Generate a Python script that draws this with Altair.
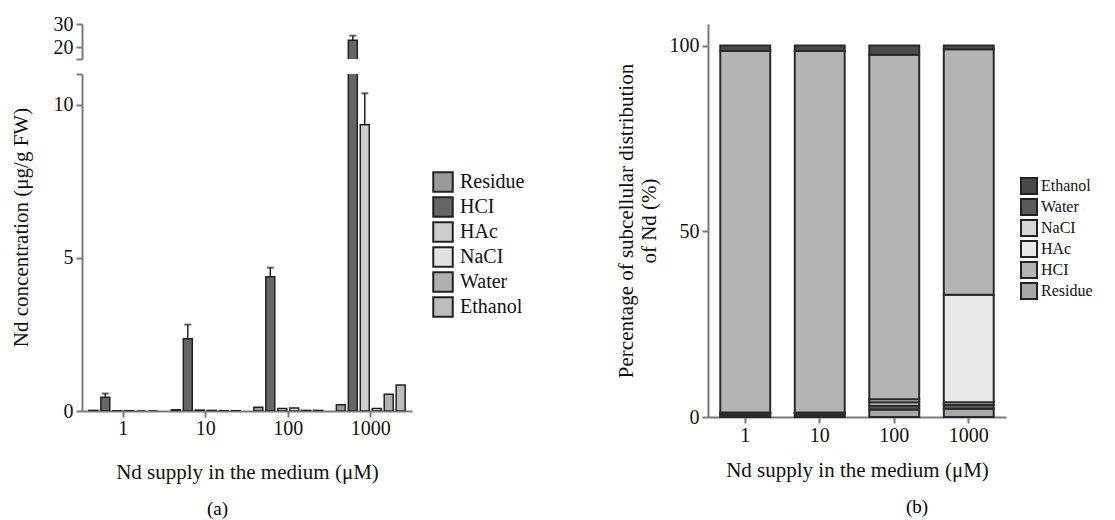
import altair as alt
import pandas as pd

FONT = "Liberation Serif"
AX = "#7a7a7a"

# ---------------- data ----------------
supply = ["1", "10", "100", "1000"]

# panel (a): Nd concentration (ug/g FW) per fraction
fractions_a = ["Residue", "HCI", "HAc", "NaCI", "Water", "Ethanol"]
residue_a = [0.02, 0.04, 0.12, 0.20]
hci_a = [0.45, 2.36, 4.38, 23.0]
hac_a = [0.01, 0.03, 0.08, 9.34]
naci_a = [0.01, 0.02, 0.10, 0.08]
water_a = [0.00, 0.01, 0.02, 0.55]
ethanol_a = [0.00, 0.01, 0.02, 0.85]
colors_a = ["#9a9a9a", "#666666", "#cdcdcd", "#e2e2e2", "#b0b0b0", "#bdbdbd"]

# error bars of panel (a)
err_supply = ["1", "10", "100", "1000", "1000"]
err_fraction = ["HCI", "HCI", "HCI", "HCI", "HAc"]
err_mean = [0.45, 2.36, 4.38, 23.0, 9.34]
err_top = [0.57, 2.82, 4.68, 25.0, 10.37]

# y-axis ticks of the two parts of the broken axis in panel (a)
upper_ticks = [15, 20, 30]
lower_ticks = [0, 5, 10, 11]

# panel (b): percentage of subcellular distribution, stacked bottom -> top
stack_b = ["Residue", "Water", "NaCI", "HAc", "HCI", "Ethanol"]
legend_b = ["Ethanol", "Water", "NaCI", "HAc", "HCI", "Residue"]
residue_b = [0.4, 0.4, 2.0, 2.2]
water_b = [0.6, 0.6, 1.0, 1.0]
naci_b = [0.1, 0.1, 1.0, 0.8]
hac_b = [0.1, 0.1, 0.8, 28.9]
hci_b = [97.3, 97.3, 92.7, 66.1]
ethanol_b = [1.5, 1.5, 2.5, 1.0]
colors_b = ["#4a4a4a", "#5a5a5a", "#d5d5d5", "#e8e8e8", "#b4b4b4", "#a8a8a8"]

# ---------------- tables ----------------
series_a = dict(zip(fractions_a, [residue_a, hci_a, hac_a, naci_a, water_a, ethanol_a]))
df_a = pd.DataFrame([
    {"supply": s, "fraction": f, "value": series_a[f][i]}
    for f in fractions_a for i, s in enumerate(supply)
])
df_err = pd.DataFrame({"supply": err_supply, "fraction": err_fraction,
                       "mean": err_mean, "top": err_top})

series_b = dict(zip(stack_b, [residue_b, water_b, naci_b, hac_b, hci_b, ethanol_b]))
df_b = pd.DataFrame([
    {"supply": s, "fraction": f, "pct": series_b[f][i], "order": k}
    for k, f in enumerate(stack_b) for i, s in enumerate(supply)
])

# ---------------- panel (a) ----------------
xoff = alt.XOffset("fraction:N",
                   scale=alt.Scale(domain=fractions_a, paddingInner=0.25, paddingOuter=0.125))


def panel_a_part(domain, height, values, hidden, title, show_x, legend, title_y=None):
    xaxis = alt.Axis(title="Nd supply in the medium (μM)", labelAngle=0,
                     labelPadding=1, titlePadding=23, tickSize=6) if show_x else None
    xscale = alt.Scale(domain=supply, paddingInner=0.13, paddingOuter=0.065)
    yscale = alt.Scale(domain=domain, nice=False, zero=False)
    axis_kw = dict(values=values, labelExpr=f"datum.value == {hidden} ? '' : datum.label",
                   title=title, tickSize=6, labelPadding=3, titlePadding=22,
                   labelOverlap=False)
    if title_y is not None:
        axis_kw["titleY"] = title_y
    yaxis = alt.Axis(**axis_kw)
    bars = alt.Chart(df_a).mark_bar(stroke="#222222", strokeWidth=1.5, clip=True).encode(
        x=alt.X("supply:N", sort=supply, scale=xscale, axis=xaxis),
        xOffset=xoff,
        y=alt.Y("value:Q", scale=yscale, axis=yaxis),
        color=alt.Color("fraction:N", scale=alt.Scale(domain=fractions_a, range=colors_a),
                        legend=legend),
    )
    rules = alt.Chart(df_err).mark_rule(color="#222222", strokeWidth=1.5, clip=True).encode(
        x=alt.X("supply:N", sort=supply, scale=xscale, axis=xaxis), xOffset=xoff,
        y=alt.Y("mean:Q", scale=yscale, axis=yaxis), y2="top:Q",
    )
    caps = alt.Chart(df_err).mark_tick(color="#222222", thickness=2, size=7, clip=True).encode(
        x=alt.X("supply:N", sort=supply, scale=xscale, axis=xaxis), xOffset=xoff,
        y=alt.Y("top:Q", scale=yscale, axis=yaxis),
    )
    return alt.layer(bars, rules, caps).properties(width=330, height=height)


legend_a = alt.Legend(orient="none", legendX=350, legendY=97, title=None,
                      symbolType="square", symbolSize=380, symbolStrokeColor="#222222",
                      symbolStrokeWidth=2, labelFont=FONT, labelFontSize=20,
                      rowPadding=-6, labelOffset=6, symbolOpacity=1)

upper = panel_a_part([15, 30], 35, upper_ticks, 15, None, False, None)
lower = panel_a_part([0, 11], 337, lower_ticks, 11, "Nd concentration (μg/g FW)", True,
                     legend_a, title_y=153)

panel_a = alt.vconcat(upper, lower, spacing=15, bounds="flush").resolve_scale(
    color="independent").properties(
    title=alt.TitleParams("(a)", orient="bottom", anchor="middle", font=FONT, fontSize=19,
                          fontWeight="normal", offset=18, dx=-50))

# ---------------- panel (b) ----------------
legend_bb = alt.Legend(orient="none", legendX=312, legendY=153, title=None,
                       symbolType="square", symbolSize=256, symbolStrokeColor="#222222",
                       symbolStrokeWidth=2, labelFont=FONT, labelFontSize=16,
                       rowPadding=-6.6, labelOffset=3, symbolOpacity=1)

panel_b = alt.Chart(df_b).mark_bar(stroke="#2a2a2a", strokeWidth=2).encode(
    x=alt.X("supply:N", sort=supply,
            scale=alt.Scale(domain=supply, paddingInner=0.33, paddingOuter=0.165),
            axis=alt.Axis(title="Nd supply in the medium (μM)", labelAngle=0,
                          labelPadding=2, titlePadding=14, tickSize=6)),
    y=alt.Y("pct:Q", stack="zero", scale=alt.Scale(domain=[0, 105.8], nice=False),
            axis=alt.Axis(values=[0, 50, 100], tickSize=6, labelPadding=3, titlePadding=10,
                          title=["Percentage of subcellular distribution", "of Nd (%)"])),
    color=alt.Color("fraction:N", sort=legend_b,
                    scale=alt.Scale(domain=legend_b, range=colors_b), legend=legend_bb),
    order=alt.Order("order:Q", sort="ascending"),
).properties(width=298, height=393,
             title=alt.TitleParams("(b)", orient="bottom", anchor="middle", font=FONT,
                                   fontSize=19, fontWeight="normal", offset=18, dx=60))

chart = alt.hconcat(panel_a, panel_b, spacing=626, bounds="flush").resolve_scale(
    color="independent", xOffset="independent"
).properties(padding={"left": 2, "top": 6, "right": 0, "bottom": 0}).configure_view(
    stroke=None
).configure_axis(
    labelFont=FONT, titleFont=FONT, labelFontSize=20, titleFontSize=21,
    titleFontWeight="normal", labelColor="#111111", titleColor="#111111",
    domainColor=AX, tickColor=AX, domainWidth=2, tickWidth=2, grid=False,
).configure_legend(labelColor="#111111")

chart.save("out.html", embed_options={"renderer": "svg", "actions": False})
